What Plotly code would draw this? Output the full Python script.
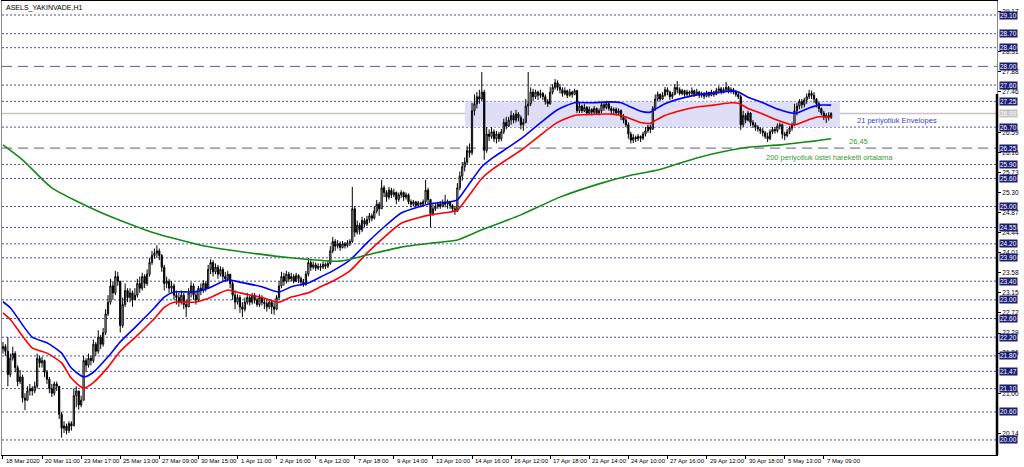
import plotly.graph_objects as go

# ---------------- data (H1 bars, index 0 = 18 Mar 2020 15:00) ----------------
opens = [
    21.95, 22.00, 21.90, 21.40, 21.75, 21.85, 21.55, 21.25, 21.35, 20.90,
    20.85, 21.05, 21.10, 21.05, 21.15, 21.75, 21.65, 21.70, 21.45, 21.30,
    21.10, 21.00, 21.20, 21.15, 20.55, 20.25, 20.30, 20.20, 20.35, 20.30,
    20.95, 21.05, 20.75, 20.85, 21.70, 21.60, 21.75, 21.70, 22.05, 21.90,
    22.20, 22.05, 22.30, 22.70, 22.95, 23.30, 23.15, 23.50, 23.40, 22.45,
    22.90, 23.20, 23.05, 23.15, 23.00, 23.10, 23.35, 23.25, 23.50, 23.35,
    23.55, 23.80, 23.95, 24.00, 24.05, 23.95, 23.70, 23.35, 23.40, 23.25,
    23.30, 23.10, 23.05, 22.95, 23.10, 22.90, 22.85, 23.15, 23.30, 23.10,
    23.00, 23.25, 23.20, 23.35, 23.25, 23.65, 23.80, 23.60, 23.70, 23.55,
    23.65, 23.50, 23.45, 23.55, 23.35, 23.10, 22.95, 23.05, 22.85, 22.80,
    22.95, 23.05, 22.95, 23.10, 23.00, 22.90, 23.05, 22.95, 22.92, 22.85,
    22.95, 22.85, 22.80, 23.05, 23.30, 23.50, 23.40, 23.55, 23.45, 23.50,
    23.40, 23.52, 23.45, 23.38, 23.33, 23.55, 23.80, 23.70, 23.75, 23.68,
    23.72, 23.70, 23.76, 23.72, 23.78, 24.05, 24.25, 24.15, 24.20, 24.12,
    24.20, 24.16, 24.22, 24.25, 24.95, 24.45, 24.60, 24.50, 24.70, 24.62,
    24.72, 24.80, 24.75, 24.90, 25.05, 24.95, 25.40, 25.30, 25.20, 25.35,
    25.25, 25.30, 25.15, 25.25, 25.30, 25.20, 25.25, 25.10, 25.05, 25.10,
    25.02, 25.08, 25.05, 25.10, 25.35, 25.15, 24.85, 24.95, 25.00, 25.05,
    25.00, 25.08, 25.05, 25.10, 25.02, 24.95, 24.90, 25.40, 25.65, 25.85,
    25.95, 26.20, 26.15, 27.05, 27.20, 27.35, 27.30, 27.45, 26.20, 26.55,
    26.50, 26.60, 26.45, 26.55, 26.45, 26.60, 26.80, 26.72, 26.85, 26.95,
    26.85, 26.98, 26.90, 26.75, 26.80, 27.15, 27.20, 27.45, 27.35, 27.45,
    27.38, 27.42, 27.35, 27.25, 27.20, 27.45, 27.55, 27.65, 27.55, 27.50,
    27.42, 27.48, 27.38, 27.45, 27.40, 27.48, 27.05, 27.15, 27.05, 27.12,
    27.00, 27.08, 27.02, 27.10, 27.00, 27.05, 27.18, 27.12, 27.20, 27.10,
    27.05, 27.08, 27.00, 27.05, 26.92, 26.85, 26.75, 26.55, 26.42, 26.48,
    26.45, 26.50, 26.46, 26.55, 26.62, 26.70, 26.65, 27.10, 27.30, 27.40,
    27.30, 27.38, 27.50, 27.45, 27.35, 27.40, 27.55, 27.50, 27.42, 27.48,
    27.40, 27.45, 27.42, 27.48, 27.40, 27.45, 27.38, 27.42, 27.36, 27.44,
    27.38, 27.45, 27.40, 27.48, 27.52, 27.45, 27.50, 27.55, 27.48, 27.50,
    27.45, 27.40, 27.35, 26.75, 26.95, 26.85, 27.00, 26.80, 26.75, 26.70,
    26.66, 26.62, 26.58, 26.50, 26.45, 26.60, 26.65, 26.62, 26.72, 26.75,
    26.55, 26.52, 26.60, 26.68, 26.75, 27.05, 27.15, 27.25, 27.18, 27.28,
    27.35, 27.42, 27.38, 27.30, 27.20, 27.10, 27.00, 26.92, 26.95, 26.90,
]
highs = [
    22.10, 22.05, 22.20, 21.85, 22.00, 21.90, 21.60, 21.50, 21.40, 21.00,
    21.15, 21.20, 21.15, 21.25, 21.85, 21.80, 21.78, 21.72, 21.50, 21.35,
    21.20, 21.25, 21.25, 21.15, 20.60, 20.40, 20.35, 20.40, 20.40, 21.10,
    21.15, 21.00, 20.95, 21.80, 21.75, 21.85, 21.80, 22.15, 22.10, 22.35,
    22.25, 22.40, 22.80, 23.10, 23.45, 23.40, 23.62, 23.60, 23.40, 23.05,
    23.35, 23.25, 23.25, 23.20, 23.25, 23.45, 23.50, 23.58, 23.55, 23.65,
    23.90, 24.05, 24.10, 24.17, 24.10, 23.98, 23.75, 23.50, 23.45, 23.40,
    23.35, 23.20, 23.15, 23.20, 23.15, 23.00, 23.25, 23.38, 23.35, 23.20,
    23.30, 23.35, 23.42, 23.40, 23.75, 23.87, 23.85, 23.78, 23.75, 23.72,
    23.70, 23.60, 23.62, 23.55, 23.40, 23.20, 23.12, 23.10, 22.95, 23.05,
    23.15, 23.10, 23.15, 23.15, 23.05, 23.12, 23.10, 23.02, 23.00, 23.00,
    22.98, 22.95, 23.10, 23.40, 23.60, 23.58, 23.62, 23.60, 23.58, 23.55,
    23.58, 23.55, 23.50, 23.45, 23.62, 23.90, 23.85, 23.82, 23.80, 23.78,
    23.78, 23.82, 23.80, 23.85, 24.15, 24.35, 24.30, 24.28, 24.25, 24.26,
    24.24, 24.28, 24.30, 25.42, 25.00, 24.70, 24.65, 24.78, 24.75, 24.80,
    24.86, 24.85, 25.00, 25.14, 25.10, 25.57, 25.45, 25.35, 25.42, 25.40,
    25.38, 25.32, 25.30, 25.35, 25.32, 25.30, 25.28, 25.15, 25.14, 25.12,
    25.12, 25.10, 25.15, 25.57, 25.40, 25.15, 25.05, 25.08, 25.10, 25.12,
    25.15, 25.25, 25.15, 25.12, 25.05, 25.00, 25.50, 25.75, 25.95, 26.05,
    26.30, 26.35, 27.22, 27.40, 27.45, 27.50, 27.88, 27.50, 26.70, 26.65,
    26.70, 26.65, 26.62, 26.60, 26.66, 26.88, 26.92, 26.92, 27.05, 27.00,
    27.07, 27.02, 26.95, 26.88, 27.30, 27.88, 27.55, 27.52, 27.50, 27.48,
    27.50, 27.45, 27.40, 27.30, 27.56, 27.62, 27.73, 27.70, 27.62, 27.55,
    27.55, 27.50, 27.52, 27.48, 27.52, 27.50, 27.22, 27.18, 27.20, 27.15,
    27.14, 27.10, 27.15, 27.12, 27.10, 27.22, 27.22, 27.26, 27.24, 27.15,
    27.12, 27.12, 27.10, 27.08, 26.98, 26.90, 26.80, 26.60, 26.55, 26.52,
    26.55, 26.52, 26.60, 26.70, 26.75, 26.75, 27.15, 27.40, 27.46, 27.42,
    27.45, 27.56, 27.55, 27.48, 27.45, 27.62, 27.69, 27.55, 27.52, 27.50,
    27.50, 27.48, 27.55, 27.50, 27.52, 27.48, 27.46, 27.45, 27.48, 27.46,
    27.50, 27.48, 27.54, 27.58, 27.56, 27.55, 27.67, 27.58, 27.55, 27.54,
    27.50, 27.45, 27.40, 27.05, 27.00, 27.05, 27.02, 26.85, 26.80, 26.74,
    26.70, 26.68, 26.62, 26.58, 26.65, 26.70, 26.70, 26.78, 26.80, 26.78,
    26.60, 26.66, 26.72, 26.80, 27.20, 27.22, 27.30, 27.30, 27.33, 27.42,
    27.50, 27.48, 27.45, 27.32, 27.24, 27.12, 27.05, 27.00, 27.02, 27.02,
]
lows = [
    21.85, 21.80, 21.15, 21.35, 21.70, 21.45, 21.15, 21.20, 20.80, 20.64,
    20.85, 20.95, 20.95, 21.00, 21.10, 21.55, 21.55, 21.35, 21.20, 21.00,
    20.92, 20.95, 21.05, 20.45, 20.05, 20.15, 20.12, 20.15, 20.20, 20.30,
    20.70, 20.65, 20.70, 20.85, 21.45, 21.55, 21.60, 21.65, 21.80, 21.85,
    21.95, 22.00, 22.25, 22.65, 22.90, 23.00, 23.10, 23.30, 22.30, 22.40,
    22.85, 22.95, 22.95, 22.85, 23.00, 23.05, 23.15, 23.20, 23.25, 23.30,
    23.50, 23.75, 23.88, 23.90, 23.85, 23.60, 23.20, 23.25, 23.15, 23.15,
    23.00, 22.90, 22.85, 22.90, 22.80, 22.63, 22.85, 23.05, 23.00, 22.90,
    22.95, 23.10, 23.15, 23.18, 23.25, 23.55, 23.50, 23.55, 23.45, 23.50,
    23.40, 23.38, 23.40, 23.25, 23.00, 22.80, 22.90, 22.72, 22.63, 22.75,
    22.90, 22.88, 22.90, 22.92, 22.85, 22.85, 22.88, 22.80, 22.75, 22.80,
    22.70, 22.68, 22.78, 23.00, 23.25, 23.30, 23.35, 23.38, 23.40, 23.35,
    23.38, 23.36, 23.30, 23.28, 23.30, 23.50, 23.62, 23.65, 23.62, 23.64,
    23.62, 23.66, 23.66, 23.68, 23.75, 24.00, 24.05, 24.10, 24.05, 24.10,
    24.10, 24.12, 24.15, 24.22, 24.35, 24.40, 24.40, 24.45, 24.55, 24.58,
    24.65, 24.68, 24.72, 24.85, 24.80, 24.95, 25.20, 25.10, 25.15, 25.18,
    25.20, 25.05, 25.10, 25.18, 25.12, 25.15, 25.05, 24.98, 25.00, 24.98,
    25.00, 24.98, 25.00, 25.05, 25.05, 24.56, 24.80, 24.90, 24.95, 24.95,
    24.98, 24.98, 24.95, 24.95, 24.88, 24.82, 24.88, 25.35, 25.55, 25.75,
    25.90, 26.05, 26.10, 26.95, 27.10, 27.20, 27.25, 26.00, 26.15, 26.40,
    26.45, 26.38, 26.35, 26.38, 26.40, 26.55, 26.65, 26.70, 26.75, 26.78,
    26.80, 26.82, 26.65, 26.62, 26.78, 26.95, 27.15, 27.25, 27.30, 27.28,
    27.32, 27.28, 27.18, 27.13, 27.18, 27.40, 27.50, 27.48, 27.42, 27.35,
    27.38, 27.32, 27.35, 27.33, 27.38, 27.00, 27.00, 27.00, 27.02, 26.95,
    26.98, 26.95, 26.98, 26.96, 26.95, 27.00, 27.05, 27.08, 27.05, 26.98,
    26.98, 26.95, 26.96, 26.85, 26.78, 26.70, 26.45, 26.35, 26.36, 26.38,
    26.40, 26.38, 26.42, 26.50, 26.58, 26.57, 26.65, 27.05, 27.25, 27.25,
    27.28, 27.35, 27.38, 27.28, 27.30, 27.38, 27.42, 27.38, 27.38, 27.35,
    27.36, 27.35, 27.38, 27.35, 27.38, 27.32, 27.33, 27.30, 27.34, 27.33,
    27.36, 27.35, 27.38, 27.42, 27.40, 27.42, 27.45, 27.42, 27.42, 27.40,
    27.35, 27.30, 26.64, 26.70, 26.78, 26.82, 26.72, 26.68, 26.62, 26.60,
    26.55, 26.50, 26.45, 26.38, 26.42, 26.55, 26.56, 26.58, 26.65, 26.45,
    26.42, 26.48, 26.55, 26.62, 26.72, 26.95, 27.08, 27.10, 27.12, 27.20,
    27.30, 27.30, 27.22, 27.12, 27.02, 26.95, 26.85, 26.79, 26.84, 26.88,
]
closes = [
    22.00, 21.90, 21.40, 21.75, 21.85, 21.55, 21.25, 21.35, 20.90, 20.85,
    21.05, 21.10, 21.05, 21.15, 21.75, 21.65, 21.70, 21.45, 21.30, 21.10,
    21.00, 21.20, 21.15, 20.55, 20.25, 20.30, 20.20, 20.35, 20.30, 20.95,
    21.05, 20.75, 20.85, 21.70, 21.60, 21.75, 21.70, 22.05, 21.90, 22.20,
    22.05, 22.30, 22.70, 22.95, 23.30, 23.15, 23.50, 23.40, 22.45, 22.90,
    23.20, 23.05, 23.15, 23.00, 23.10, 23.35, 23.25, 23.50, 23.35, 23.55,
    23.80, 23.95, 24.00, 24.05, 23.95, 23.70, 23.35, 23.40, 23.25, 23.30,
    23.10, 23.05, 22.95, 23.10, 22.90, 22.85, 23.15, 23.30, 23.10, 23.00,
    23.25, 23.20, 23.35, 23.25, 23.65, 23.80, 23.60, 23.70, 23.55, 23.65,
    23.50, 23.45, 23.55, 23.35, 23.10, 22.95, 23.05, 22.85, 22.80, 22.95,
    23.05, 22.95, 23.10, 23.00, 22.90, 23.05, 22.95, 22.92, 22.85, 22.95,
    22.85, 22.80, 23.05, 23.30, 23.50, 23.40, 23.55, 23.45, 23.50, 23.40,
    23.52, 23.45, 23.38, 23.33, 23.55, 23.80, 23.70, 23.75, 23.68, 23.72,
    23.70, 23.76, 23.72, 23.78, 24.05, 24.25, 24.15, 24.20, 24.12, 24.20,
    24.16, 24.22, 24.25, 24.95, 24.45, 24.60, 24.50, 24.70, 24.62, 24.72,
    24.80, 24.75, 24.90, 25.05, 24.95, 25.40, 25.30, 25.20, 25.35, 25.25,
    25.30, 25.15, 25.25, 25.30, 25.20, 25.25, 25.10, 25.05, 25.10, 25.02,
    25.08, 25.05, 25.10, 25.35, 25.15, 24.85, 24.95, 25.00, 25.05, 25.00,
    25.08, 25.05, 25.10, 25.02, 24.95, 24.90, 25.40, 25.65, 25.85, 25.95,
    26.20, 26.15, 27.05, 27.20, 27.35, 27.30, 27.45, 26.20, 26.55, 26.50,
    26.60, 26.45, 26.55, 26.45, 26.60, 26.80, 26.72, 26.85, 26.95, 26.85,
    26.98, 26.90, 26.75, 26.80, 27.15, 27.20, 27.45, 27.35, 27.45, 27.38,
    27.42, 27.35, 27.25, 27.20, 27.45, 27.55, 27.65, 27.55, 27.50, 27.42,
    27.48, 27.38, 27.45, 27.40, 27.48, 27.05, 27.15, 27.05, 27.12, 27.00,
    27.08, 27.02, 27.10, 27.00, 27.05, 27.18, 27.12, 27.20, 27.10, 27.05,
    27.08, 27.00, 27.05, 26.92, 26.85, 26.75, 26.55, 26.42, 26.48, 26.45,
    26.50, 26.46, 26.55, 26.62, 26.70, 26.65, 27.10, 27.30, 27.40, 27.30,
    27.38, 27.50, 27.45, 27.35, 27.40, 27.55, 27.50, 27.42, 27.48, 27.40,
    27.45, 27.42, 27.48, 27.40, 27.45, 27.38, 27.42, 27.36, 27.44, 27.38,
    27.45, 27.40, 27.48, 27.52, 27.45, 27.50, 27.55, 27.48, 27.50, 27.45,
    27.40, 27.35, 26.75, 26.95, 26.85, 27.00, 26.80, 26.75, 26.70, 26.66,
    26.62, 26.58, 26.50, 26.45, 26.60, 26.65, 26.62, 26.72, 26.75, 26.55,
    26.52, 26.60, 26.68, 26.75, 27.05, 27.15, 27.25, 27.18, 27.28, 27.35,
    27.42, 27.38, 27.30, 27.20, 27.10, 27.00, 26.92, 26.95, 26.90, 26.99,
]
bars = list(range(len(closes)))

# Envelopes (21) upper / lower, read at sample bars
env_idx = [0, 3, 12, 18, 24, 28, 33, 37, 43, 48, 55, 62, 66, 70, 78, 84, 92, 97, 106,
           113, 118, 125, 130, 135, 142, 149, 156, 163, 170, 176, 183, 186, 190, 196,
           201, 207, 213, 220, 227, 234, 241, 248, 253, 257, 261, 265, 267, 271, 278,
           284, 291, 298, 301, 305, 311, 318, 323, 325, 330, 334, 339]
env_upper = [22.96, 22.83, 22.20, 22.08, 21.86, 21.54, 21.35, 21.45, 21.78, 22.10, 22.46,
             22.83, 23.06, 23.17, 23.17, 23.25, 23.43, 23.38, 23.28, 23.17, 23.28, 23.36,
             23.49, 23.62, 23.85, 24.22, 24.56, 24.86, 24.99, 25.07, 25.10, 25.14, 25.42,
             25.85, 26.06, 26.27, 26.49, 26.79, 27.07, 27.22, 27.22, 27.24, 27.22, 27.13,
             27.04, 27.02, 27.08, 27.20, 27.32, 27.39, 27.43, 27.47, 27.45, 27.34, 27.22,
             27.07, 27.00, 27.00, 27.11, 27.17, 27.17]
env_lower = [22.72, 22.58, 21.97, 21.86, 21.65, 21.32, 21.11, 21.23, 21.56, 21.90, 22.24,
             22.60, 22.84, 22.95, 22.95, 23.03, 23.21, 23.15, 23.05, 22.95, 23.06, 23.15,
             23.28, 23.40, 23.62, 24.00, 24.34, 24.64, 24.76, 24.83, 24.88, 24.92, 25.18,
             25.60, 25.82, 26.03, 26.24, 26.53, 26.80, 26.95, 26.97, 26.98, 26.95, 26.88,
             26.80, 26.78, 26.84, 26.95, 27.06, 27.13, 27.17, 27.22, 27.21, 27.10, 26.98,
             26.83, 26.75, 26.76, 26.86, 26.92, 26.91]

# 200-period exponential moving average, read at sample bars
ema_idx = [0, 8, 20, 41, 61, 81, 102, 122, 138, 149, 163, 176, 186, 196, 212, 228, 245,
           257, 268, 284, 298, 305, 318, 325, 332, 339]
ema200 = [26.32, 26.00, 25.40, 24.85, 24.45, 24.17, 24.00, 23.88, 23.83, 23.96, 24.13,
          24.22, 24.28, 24.50, 24.82, 25.20, 25.50, 25.67, 25.78, 26.04, 26.21, 26.27,
          26.32, 26.36, 26.40, 26.45]

# horizontal level lines
dotted_levels = [29.10, 28.70, 28.40, 27.60, 27.25, 26.70, 25.90, 25.60, 25.00, 24.55,
                 24.20, 23.90, 23.40, 23.00, 22.60, 22.20, 21.80, 21.47, 21.10, 20.60, 20.00]
dashed_levels = [28.00, 26.25]
bid_price = 26.99
zone_low, zone_high = 26.70, 27.25

# price-scale labels that remain visible next to the boxed level labels
axis_ticks = [20.14, 21.00, 21.86, 22.29, 22.72, 23.15, 23.58, 24.01, 24.44,
              24.87, 25.30, 25.73, 26.16, 26.59, 27.46, 27.88, 28.31, 29.17]

date_idx = [0, 16, 32, 48, 64, 80, 96, 112, 128, 144, 160, 176, 192, 208, 224, 240, 256,
            272, 288, 304, 320, 336]
date_text = ["18 Mar 2020", "20 Mar 11:00", "23 Mar 17:00", "25 Mar 13:00", "27 Mar 09:00",
             "30 Mar 15:00", "1 Apr 11:00", "2 Apr 16:00", "6 Apr 12:00", "7 Apr 18:00",
             "9 Apr 14:00", "13 Apr 10:00", "14 Apr 16:00", "16 Apr 12:00", "17 Apr 18:00",
             "21 Apr 14:00", "24 Apr 10:00", "27 Apr 16:00", "29 Apr 12:00", "30 Apr 18:00",
             "5 May 13:00", "7 May 09:00"]

FONT = "Liberation Sans, Arial, sans-serif"
X_RANGE = [-0.4, 406.9]
Y_RANGE = [19.678, 29.40]

fig = go.Figure()

fig.add_trace(go.Candlestick(
    x=bars, open=opens, high=highs, low=lows, close=closes,
    increasing=dict(line=dict(color="black", width=1), fillcolor="white"),
    decreasing=dict(line=dict(color="black", width=1), fillcolor="black"),
    whiskerwidth=0, hoverinfo="skip", showlegend=False,
))
fig.add_trace(go.Scatter(x=env_idx, y=env_upper, mode="lines",
                         line=dict(color="#0000ff", width=1.6, shape="spline", smoothing=0.6),
                         hoverinfo="skip", showlegend=False))
fig.add_trace(go.Scatter(x=env_idx, y=env_lower, mode="lines",
                         line=dict(color="#ff0000", width=1.6, shape="spline", smoothing=0.6),
                         hoverinfo="skip", showlegend=False))
fig.add_trace(go.Scatter(x=ema_idx, y=ema200, mode="lines",
                         line=dict(color="#138a13", width=1.6, shape="spline", smoothing=0.6),
                         hoverinfo="skip", showlegend=False))

shapes = []
# highlighted zone
shapes.append(dict(type="rect", xref="x", yref="y", x0=189.1, x1=342.6,
                   y0=zone_low, y1=zone_high, fillcolor="rgb(222,222,246)",
                   line=dict(width=0), layer="below"))
for lv in dotted_levels:
    shapes.append(dict(type="line", xref="paper", yref="y", x0=0, x1=1, y0=lv, y1=lv,
                       line=dict(color="#4b4bb0", width=1, dash="2px,2px"), layer="below"))
for lv in dashed_levels:
    shapes.append(dict(type="line", xref="paper", yref="y", x0=0, x1=1, y0=lv, y1=lv,
                       line=dict(color="#5a5a96", width=1, dash="10px,6px"), layer="below"))
shapes.append(dict(type="line", xref="paper", yref="y", x0=0, x1=1, y0=bid_price, y1=bid_price,
                   line=dict(color="#c4c4c4", width=1.5), layer="below"))
# thick right border segment
shapes.append(dict(type="line", xref="paper", yref="paper", x0=1, x1=1, y0=0, y1=0.795,
                   line=dict(color="black", width=2.5)))

annotations = []
annotations.append(dict(text="ASELS_YAKINVADE,H1", xref="paper", yref="paper", x=0, y=1,
                        xanchor="left", yanchor="top", xshift=2, yshift=-1, showarrow=False,
                        font=dict(family=FONT, size=7, color="black")))
for lv in dotted_levels + dashed_levels:
    annotations.append(dict(text=f"{lv:.2f}", xref="paper", yref="y", x=1, y=lv,
                            xanchor="left", yanchor="middle", xshift=2, showarrow=False,
                            bgcolor="#1c1c72", borderpad=0,
                            font=dict(family=FONT, size=6.5, color="white")))
annotations.append(dict(text=f"{bid_price:.2f}", xref="paper", yref="y", x=1, y=bid_price,
                        xanchor="left", yanchor="middle", xshift=2, showarrow=False,
                        bgcolor="#c4c4c4", borderpad=0,
                        font=dict(family=FONT, size=6.5, color="white")))
for i, t in zip(date_idx, date_text):
    annotations.append(dict(text=t, xref="x", yref="paper", x=i, y=0, xanchor="left",
                            yanchor="top", xshift=1, yshift=-1, showarrow=False,
                            font=dict(family=FONT, size=6, color="black")))
annotations.append(dict(text="21 periyotluk Envelopes", xref="x", yref="y", x=348.8, y=26.85,
                        xanchor="left", yanchor="middle", showarrow=False,
                        font=dict(family=FONT, size=7.5, color="#3c3cd8")))
annotations.append(dict(text="26,45", xref="x", yref="y", x=345.5, y=26.40,
                        xanchor="left", yanchor="middle", showarrow=False,
                        font=dict(family=FONT, size=7.5, color="#34a034")))
annotations.append(dict(text="200 periyotluk üstel hareketli ortalama", xref="x", yref="y",
                        x=311.5, y=26.04, xanchor="left", yanchor="middle", showarrow=False,
                        font=dict(family=FONT, size=7.5, color="#34a034")))

fig.update_layout(
    width=1024, height=467,
    margin=dict(l=2, r=27, t=1, b=12),
    paper_bgcolor="white", plot_bgcolor="white",
    shapes=shapes, annotations=annotations,
    showlegend=False, hovermode=False,
    font=dict(family=FONT),
    xaxis=dict(range=X_RANGE, rangeslider=dict(visible=False), showgrid=False,
               zeroline=False, showline=True, linecolor="black", linewidth=1, mirror=True,
               tickmode="array", tickvals=date_idx, ticks="outside", ticklen=3,
               tickcolor="black", showticklabels=False),
    yaxis=dict(range=Y_RANGE, side="right", showgrid=False, zeroline=False,
               showline=True, linecolor="#888888", linewidth=1, mirror=True,
               tickmode="array", tickvals=axis_ticks,
               ticktext=[f"{v:.2f}" for v in axis_ticks],
               ticks="outside", ticklen=3, tickcolor="black",
               tickfont=dict(family=FONT, size=6.5, color="black")),
)

fig.write_html("out.html", config={"displayModeBar": False},
               post_script="document.body.style.margin='0';document.body.style.overflow='hidden';")
